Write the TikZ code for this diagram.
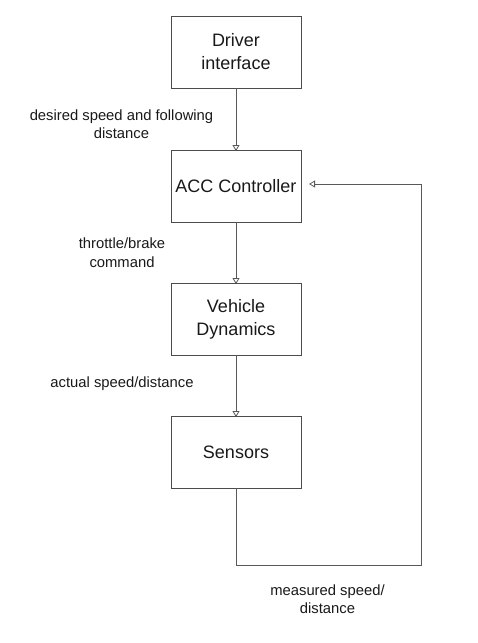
\documentclass[tikz,border=0pt]{standalone}
\usepackage{fontspec}
\setmainfont{Liberation Sans}
\usetikzlibrary{arrows.meta}
\begin{document}
\begin{tikzpicture}[x=1pt,y=-1pt,
  blk/.style={draw=black!70, line width=0.9pt, minimum width=130pt, minimum height=72pt,
    align=center, inner sep=0pt, font=\fontsize{18}{23}\selectfont, text=black!90},
  lbl/.style={align=center, inner sep=0pt, font=\fontsize{14.8}{18.5}\selectfont, text=black!90},
  arr/.style={draw=black!65, line width=0.8pt, -{Triangle[open, length=6pt, width=7pt]}}]
\useasboundingbox (0,0) rectangle (478,643);
\node[blk] (D) at (236,52) {Driver\\interface};
\node[blk] (A) at (236,186) {ACC Controller};
\node[blk] (V) at (236,319) {Vehicle\\Dynamics};
\node[blk] (S) at (236,452) {Sensors};
\node[lbl] (l1) at (121.5,124) {desired speed and following\\distance};
\node[lbl] (l2) at (122,252.5) {throttle/brake\\command};
\node[lbl] (l3) at (122,384) {actual speed/distance};
\node[lbl] (l4) at (327.5,599) {measured speed/\\distance};
\draw[arr] (D.south) -- ([yshift=-1.5pt]A.north);
\draw[arr] (A.south) -- ([yshift=-1.5pt]V.north);
\draw[arr] (V.south) -- ([yshift=-1.5pt]S.north);
\coordinate (c1) at (421,565);
\coordinate (c2) at (309,184);
\draw[arr] (S.south) |- (c1) |- (c2);
\end{tikzpicture}
\end{document}
